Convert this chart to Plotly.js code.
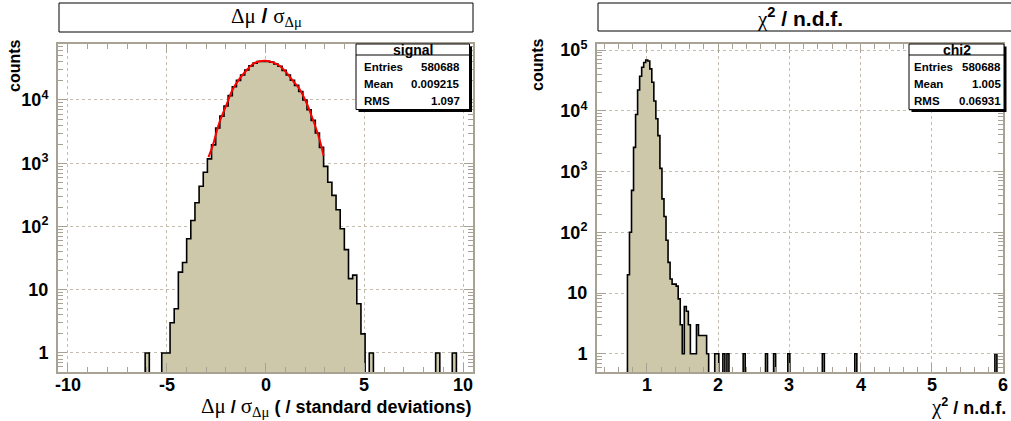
<!DOCTYPE html>
<html><head><meta charset="utf-8">
<script src="https://cdn.plot.ly/plotly-3.0.1.min.js"></script>
<style>html,body{margin:0;padding:0;background:#fff}#c{width:1011px;height:421px}</style>
</head><body><div id="c"></div>
<script>
// ---------- data ----------
const dmuStart = -10.5, dmuWidth = 0.21;           // 100 bins
const dmuCounts = [
 0,0,0,0,0,0,0,0,0,0, 0,0,0,0,0,0,0,0,0,0,
 0,1,0,0,0,1,1,3,5,19, 27,64,124,237,433,721,1170,1950,3600,5550,
 8050,11700,16200,20400,24800,29800,34600,38300,40600,41300,
 41000,39700,37100,34100,29400,24800,20500,17000,13600,10000,
 7000,4750,3010,1780,890,500,310,184,92,43,
 15,17,6,2,0,1,0,0,0,0, 0,0,0,0,0,0,0,0,0,0,
 0,1,0,0,0,1,0,0,0,0];
const fitX = [-2.885,-2.67,-2.33,-1.99,-1.65,-1.32,-0.98,-0.64,-0.30,0,0.37,0.71,1.05,1.38,1.72,2.06,2.39,2.73,2.94];
const fitY = [1245,1900,4450,8130,14900,21500,29000,37000,40900,41700,39300,34800,27300,20200,14900,9200,5000,2400,1310];

const chiStart = 0.3, chiWidth = 0.0285;           // 200 bins
const chiCounts = [
 0,0,0,0,0,0,0,0,0,0, 0,0,0,0,0,20,100,490,2500,8700,          // 0-19
 22000,37000,52000,62400,68500,66000,49000,29500,14500,7400,    // 20-29
 3900,1130,355,182,74,32,17,14,14,13,                           // 30-39
 8,3,1,6,5,3,1,1,1,3, 2,2,2,2,1,0,0,0,1,1,                      // 40-59
 0,0,1,0,1,0,0,0,0,0, 0,0,1,0,0,0,0,0,0,0,                      // 60-79
 0,0,0,1,0,0,0,1,0,0, 0,0,0,0,1,0,0,0,0,0,                      // 80-99
 0,0,0,0,0,0,0,0,0,0, 0,1,0,0,0,0,0,0,0,0,                      // 100-119
 0,0,0,0,0,0,0,1,0,0, 0,0,0,0,0,0,0,0,0,0,                      // 120-139
 0,0,0,0,0,0,0,0,0,0, 0,0,0,0,0,0,0,0,0,0,                      // 140-159
 0,0,0,0,0,0,0,0,0,0, 0,0,0,0,0,0,0,0,0,0,                      // 160-179
 0,0,0,0,0,0,0,0,0,0, 0,0,0,0,0,0,1,0,0,0];                     // 180-199

const dmuTicks = [-10,-5,0,5,10];
const chiTicks = [1,2,3,4,5,6];
const logTickVals = [1,10,100,1000,10000,100000];
const logTickText = ['1','10','10<sup>2</sup>','10<sup>3</sup>','10<sup>4</sup>','10<sup>5</sup>'];
const statLabels = ['Entries','Mean','RMS'];
const sigStats = ['580688','0.009215','1.097'];
const chiStats = ['580688','1.005','0.06931'];

// ---------- helpers ----------
const W = 1011, H = 421;
const px = v => v / W, py = v => 1 - v / H;
const FLOOR = 1e-3;
function stepPoly(start, width, counts){
  const x=[start], y=[FLOOR];
  counts.forEach((c,i)=>{const v=c>0?c:FLOOR; x.push(start+i*width, start+(i+1)*width); y.push(v,v);});
  x.push(start+counts.length*width); y.push(FLOOR);
  return {x,y};
}
const FILL='#cdc8aa', FRAME='#a8a294', GRID='#c4bdb0';
const SANS='Liberation Sans, Arial, Helvetica, sans-serif';
const SERIF='font-family:Liberation Serif,Times New Roman,serif;font-weight:normal';

const h1 = stepPoly(dmuStart, dmuWidth, dmuCounts);
const h2 = stepPoly(chiStart, chiWidth, chiCounts);

const traces = [
  {x:h1.x, y:h1.y, xaxis:'x', yaxis:'y', mode:'lines', fill:'toself', fillcolor:FILL,
   line:{color:'#000', width:1.6}, hoverinfo:'skip'},
  {x:fitX, y:fitY, xaxis:'x', yaxis:'y', mode:'lines', line:{color:'#ff0000', width:2, shape:'spline'}, hoverinfo:'skip'},
  {x:h2.x, y:h2.y, xaxis:'x2', yaxis:'y2', mode:'lines', fill:'toself', fillcolor:FILL,
   line:{color:'#000', width:1.6}, hoverinfo:'skip'}
];

function xax(domain, range, ticks, minorDt){
  return {domain, range, tickmode:'array', tickvals:ticks, showticklabels:false,
    ticks:'inside', ticklen:9, tickwidth:1, tickcolor:FRAME,
    showline:true, linecolor:FRAME, linewidth:2, mirror:'ticks',
    showgrid:true, gridcolor:GRID, griddash:'dot', gridwidth:1, zeroline:false,
    minor:{dtick:minorDt, tick0:0, ticks:'inside', ticklen:5, tickcolor:FRAME, showgrid:false},
    fixedrange:true};
}
function yax(domain, range, anchor){
  return {type:'log', domain, range, anchor, tickmode:'array', tickvals:logTickVals, ticktext:logTickText,
    ticks:'inside', ticklen:9, tickwidth:1, tickcolor:FRAME,
    showline:true, linecolor:FRAME, linewidth:2, mirror:'ticks',
    showgrid:true, gridcolor:GRID, griddash:'dot', gridwidth:1, zeroline:false,
    minor:{dtick:'D1', ticks:'inside', ticklen:5, tickcolor:FRAME, showgrid:false},
    ticklabelstandoff:4,
    tickfont:{family:SANS, size:18, color:'#000', weight:'bold'}, fixedrange:true};
}

const yDom = [py(372), py(44)];
const layout = {
  width:W, height:H, margin:{l:0,r:0,t:0,b:0}, showlegend:false,
  paper_bgcolor:'#fff', plot_bgcolor:'#fff',
  xaxis: Object.assign(xax([px(58),px(473)], [dmuStart, dmuStart+dmuCounts.length*dmuWidth], dmuTicks, 1), {anchor:'y'}),
  yaxis: yax(yDom, [Math.log10(0.5), 4.885], 'x'),
  xaxis2: Object.assign(xax([px(597),px(1003)], [chiStart, chiStart+chiCounts.length*chiWidth], chiTicks, 0.2), {anchor:'y2'}),
  yaxis2: yax(yDom, [-0.3, 5.1], 'x2'),
  shapes:[], annotations:[]
};

function rect(x0,y0,x1,y1,fill,lw){
  layout.shapes.push({type:'rect', xref:'paper', yref:'paper', x0:px(x0), x1:px(x1), y0:py(y0), y1:py(y1),
    fillcolor:fill, line:{color:'#000', width:lw}, layer:'above'});
}
function hline(x0,x1,y){
  layout.shapes.push({type:'line', xref:'paper', yref:'paper', x0:px(x0), x1:px(x1), y0:py(y), y1:py(y),
    line:{color:'#000', width:1}, layer:'above'});
}
function ann(text,x,y,xa,size,extra){
  layout.annotations.push(Object.assign({text, x:px(x), y:py(y), xref:'paper', yref:'paper',
    xanchor:xa, yanchor:'middle', showarrow:false,
    font:{family:SANS, size, color:'#000', weight:'bold'}}, extra||{}));
}
// x tick labels placed through the data axes
function xTickLabels(ticks, xref){
  ticks.forEach(t=>layout.annotations.push({text:String(t), x:t, xref, y:py(385), yref:'paper',
    xanchor:'center', yanchor:'middle', showarrow:false,
    font:{family:SANS, size:18, color:'#000', weight:'bold'}}));
}
xTickLabels(dmuTicks,'x');
xTickLabels(chiTicks,'x2');

// title boxes
rect(59,3,473,32,'#fff',1);
rect(598,3,1040,31,'#fff',1);
ann('<span style="'+SERIF+'">Δμ</span> / <span style="'+SERIF+'">σ<sub>Δμ</sub></span>', 266, 17, 'center', 21);
ann('<span style="'+SERIF+'">χ</span><sup>2</sup> / n.d.f.', 800, 17, 'center', 21);

// stats boxes
function stats(x0,x1,title,vals,lpad,rpad){
  rect(x0+2.5,46.5,x1+2.5,112,'#000',0);
  rect(x0,44,x1,109.5,'#fff',1);
  hline(x0,x1,55);
  ann(title,(x0+x1)/2,49.5,'center',14);
  const rows=[67.5,84,100.5];
  statLabels.forEach((l,i)=>{ ann(l,x0+lpad,rows[i],'left',11.5); ann(vals[i],x1-rpad,rows[i],'right',11.5); });
}
stats(356,469.5,'signal',sigStats,6,8);
stats(909,1004,'chi2',chiStats,3,1);

// axis titles
ann('counts',15,66,'center',16,{textangle:-90});
ann('counts',538,65,'center',16,{textangle:-90});
ann('<span style="'+SERIF+';font-size:21px">Δμ</span> / <span style="'+SERIF+';font-size:21px">σ<sub>Δμ</sub></span> ( / standard deviations)', 473, 407, 'right', 18);
ann('<span style="'+SERIF+';font-size:21px">χ</span><sup>2</sup> / n.d.f.', 1008, 407, 'right', 18);

Plotly.newPlot('c', traces, layout, {staticPlot:true, displayModeBar:false});
</script></body></html>
